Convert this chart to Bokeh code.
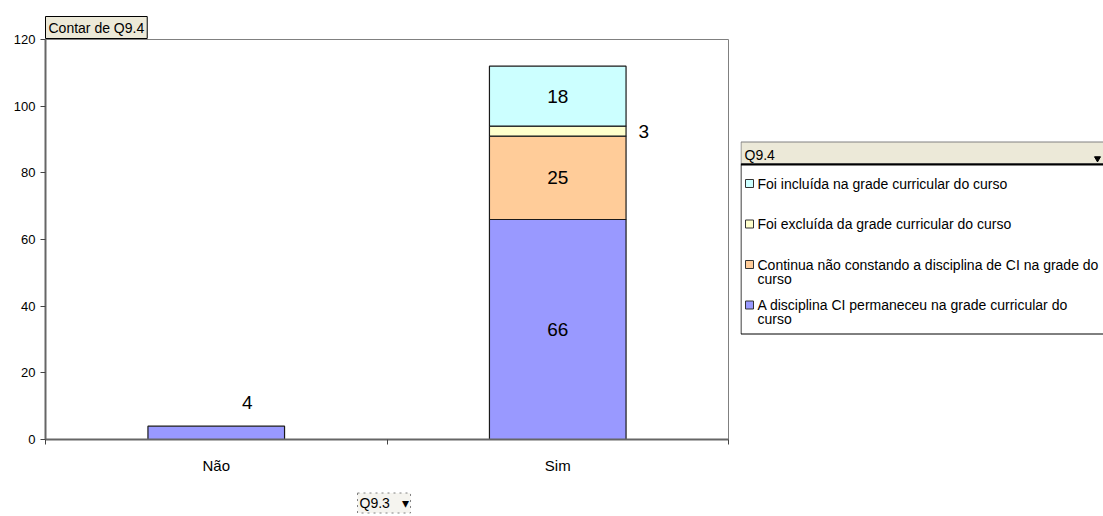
import textwrap

from bokeh.core.properties import value
from bokeh.embed import file_html
from bokeh.layouts import row
from bokeh.models import ColumnDataSource, FixedTicker, Range1d, Title
from bokeh.plotting import figure
from bokeh.resources import INLINE

# ---- data -------------------------------------------------------------
categories = ["Não", "Sim"]
series_names = [
    "A disciplina CI permaneceu na grade curricular do curso",
    "Continua não constando a disciplina de CI na grade do curso",
    "Foi excluída da grade curricular do curso",
    "Foi incluída na grade curricular do curso",
]
permaneceu = [4, 66]
continua = [0, 25]
excluida = [0, 3]
incluida = [0, 18]
y_ticks = [0, 20, 40, 60, 80, 100, 120]

series_values = [permaneceu, continua, excluida, incluida]
colors = ["#9999FF", "#FFCC99", "#FFFFCC", "#CCFFFF"]
FONT = "Liberation Sans"
BEIGE = "#ECE9D8"

# canvas geometry shared by both panels
LEFT, RIGHT, TOP, BOTTOM = 45, 728, 39, 439
W_MAIN = 740
W_LEG = 1103 - W_MAIN

# ---- stacked segments ---------------------------------------------------
seg = dict(x=[], bottom=[], top=[], color=[])
lab = dict(x=[], y=[], text=[], xo=[], yo=[])
for ci, cat in enumerate(categories):
    xc = ci + 0.5
    base = 0
    nonzero = [k for k, vals in enumerate(series_values) if vals[ci] > 0]
    for k in nonzero:
        v = series_values[k][ci]
        seg["x"].append(xc)
        seg["bottom"].append(base)
        seg["top"].append(base + v)
        seg["color"].append(colors[k])
        lab["x"].append(xc)
        lab["text"].append(str(v))
        if v >= 10:
            lab["y"].append(base + v / 2)
            lab["xo"].append(0)
            lab["yo"].append(0)
        elif len(nonzero) == 1:
            # short lone bar: label sits above it
            lab["y"].append(base + v)
            lab["xo"].append(31)
            lab["yo"].append(-24)
        else:
            # thin slice inside a stack: label goes beside the bar
            lab["y"].append(base + v / 2)
            lab["xo"].append(86)
            lab["yo"].append(0)
        base += v

p = figure(
    frame_width=RIGHT - LEFT, frame_height=BOTTOM - TOP,
    x_range=Range1d(0, len(categories)), y_range=Range1d(y_ticks[0], y_ticks[-1]),
    output_backend="svg", toolbar_location=None,
    min_border_left=LEFT, min_border_right=W_MAIN - RIGHT,
    min_border_top=TOP, min_border_bottom=77,
)
p.background_fill_color = "white"
p.border_fill_color = "white"
p.outline_line_color = "#808080"
p.outline_line_width = 1
p.xgrid.visible = False
p.ygrid.visible = False

p.vbar(x="x", bottom="bottom", top="top", width=0.4, fill_color="color",
       line_color="#1a1a1a", line_width=1.2, source=ColumnDataSource(seg))

p.text(x="x", y="y", text="text", x_offset="xo", y_offset="yo",
       text_align="center", text_baseline="middle",
       text_font=value(FONT), text_font_size="19px", text_color="black",
       source=ColumnDataSource(lab))

# y axis
ya = p.yaxis[0]
ya.ticker = FixedTicker(ticks=y_ticks)
ya.major_tick_out = 5
ya.major_tick_in = 0
ya.minor_tick_out = 0
ya.axis_line_color = "#666666"
ya.axis_line_width = 2
ya.major_tick_line_color = "#444444"
ya.major_label_text_font = FONT
ya.major_label_text_font_size = "13px"
ya.major_label_text_color = "black"
ya.major_label_standoff = 5

# x axis: category names at centres, ticks on the boundaries
xa = p.xaxis[0]
centres = [i + 0.5 for i in range(len(categories))]
xa.ticker = FixedTicker(ticks=centres, minor_ticks=list(range(len(categories) + 1)))
xa.major_label_overrides = {c: name for c, name in zip(centres, categories)}
xa.major_tick_out = 0
xa.major_tick_in = 0
xa.minor_tick_out = 5
xa.minor_tick_in = 0
xa.minor_tick_line_color = "#444444"
xa.axis_line_color = "#666666"
xa.axis_line_width = 2
xa.major_label_text_font = FONT
xa.major_label_text_font_size = "15px"
xa.major_label_text_color = "black"
xa.major_label_standoff = 12

p.title = Title(
    text="Contar de Q9.4", align="left", offset=0, standoff=2,
    text_font=FONT, text_font_size="14px", text_font_style="normal",
    text_color="black", background_fill_color=BEIGE, border_line_color="black",
    padding=3,
)

# field button under the category axis
p.add_layout(Title(
    text="Q9.3\u00a0\u00a0\u00a0▾", align="left", offset=312, standoff=29,
    text_font=FONT, text_font_size="14px", text_font_style="normal",
    text_color="black", background_fill_color="#F5F4EF",
    border_line_color="#808080", border_line_dash="dotted", padding=2,
), "below")

# ---- legend panel -------------------------------------------------------
lg = figure(
    frame_width=W_LEG, frame_height=BOTTOM - TOP,
    x_range=Range1d(W_MAIN, W_MAIN + W_LEG), y_range=Range1d(BOTTOM, TOP),
    output_backend="svg", toolbar_location=None,
    x_axis_location=None, y_axis_location=None,
    min_border_left=0, min_border_right=0,
    min_border_top=TOP, min_border_bottom=77,
)
lg.outline_line_color = None
lg.xgrid.visible = False
lg.ygrid.visible = False
lg.background_fill_color = "white"
lg.border_fill_color = "white"

lg.quad(left=[740.5], right=[1110], top=[163], bottom=[333.5],
        fill_color="white", line_color="black", line_width=1)
lg.quad(left=[740.5], right=[1110], top=[141.5], bottom=[163],
        fill_color=BEIGE, line_color="#808080", line_width=1)
lg.segment(x0=[740.5], y0=[164], x1=[1110], y1=[164], line_color="black", line_width=2)
lg.text(x=[744], y=[154], text=["Q9.4"], text_baseline="middle",
        text_font=value(FONT), text_font_size="14px", text_color="black")
lg.scatter(x=[1097], y=[158], marker="inverted_triangle", size=6,
           fill_color="black", line_color="black")

items_top_down = list(range(len(series_names)))[::-1]
mk = dict(x=[], y=[], c=[])
tx = dict(x=[], y=[], t=[])
for pos, k in enumerate(items_top_down):
    y0 = 183 + pos * 40.5
    mk["x"].append(749)
    mk["y"].append(y0)
    mk["c"].append(colors[k])
    for li, line in enumerate(textwrap.wrap(series_names[k], width=53)):
        tx["x"].append(757)
        tx["y"].append(y0 + li * 14)
        tx["t"].append(line)

lg.scatter(x="x", y="y", fill_color="c", marker="square", size=8,
           line_color="#333333", line_width=1, source=ColumnDataSource(mk))
lg.text(x="x", y="y", text="t", text_baseline="middle", text_align="left",
        text_font=value(FONT), text_font_size="14px", text_color="black",
        source=ColumnDataSource(tx))

layout = row(p, lg, spacing=0)
open("out.html", "w").write(file_html(layout, INLINE))
